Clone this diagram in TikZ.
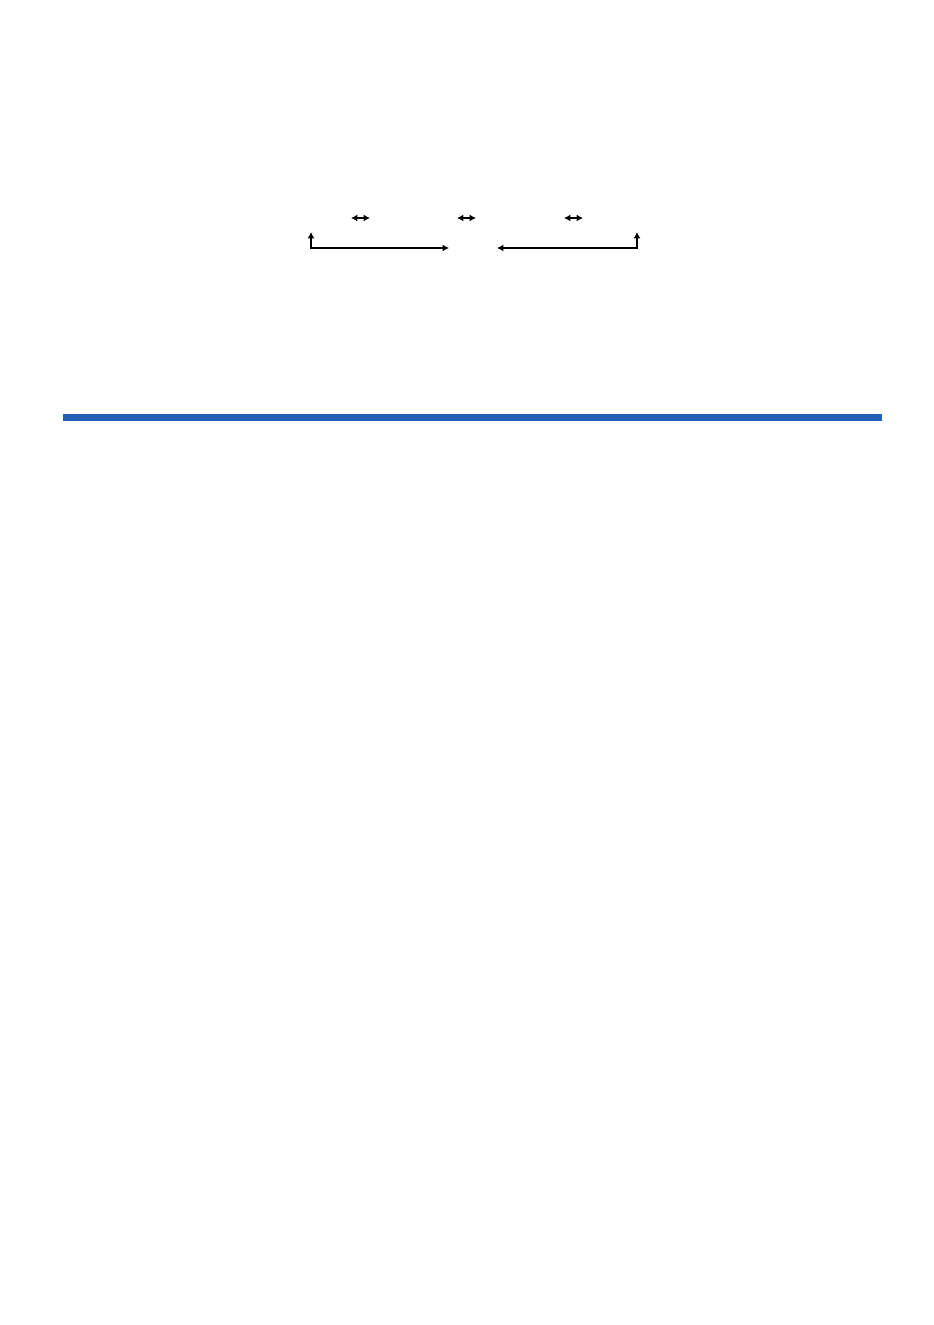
\documentclass[tikz,border=0pt]{standalone}
\usetikzlibrary{arrows.meta}
\definecolor{barblue}{RGB}{36,96,182}

\begin{document}
\begin{tikzpicture}[
            x=0.5pt, y=-0.5pt,
            tip/.style={-{Latex[length=4pt,width=3.5pt]}},
            bothtip/.style={line width=0.75pt,{Latex[length=3.2pt,width=3.5pt]}-{Latex[length=3.2pt,width=3.5pt]}},
            bar/.style={fill=barblue}
        ]
          \useasboundingbox (0,0) rectangle (933,1325);
          % small double arrows
          \foreach \n/\x in {a/351,b/457,c/564} {
            \coordinate (\n l) at (\x,218);
            \coordinate (\n r) at (\x+19,218);
            \draw[bothtip] (\n l) -- (\n r);
          }
          % bent arrows
          \coordinate (ltop) at (311,232); \coordinate (lend) at (449,248);
          \coordinate (rend) at (497,248); \coordinate (rtop) at (637,232);
          \draw[bothtip] (ltop) |- (lend);
          \draw[bothtip] (rend) -| (rtop);
          % rule
          \fill[bar] (63,414) rectangle (882,421);
        \end{tikzpicture}
\end{document}
